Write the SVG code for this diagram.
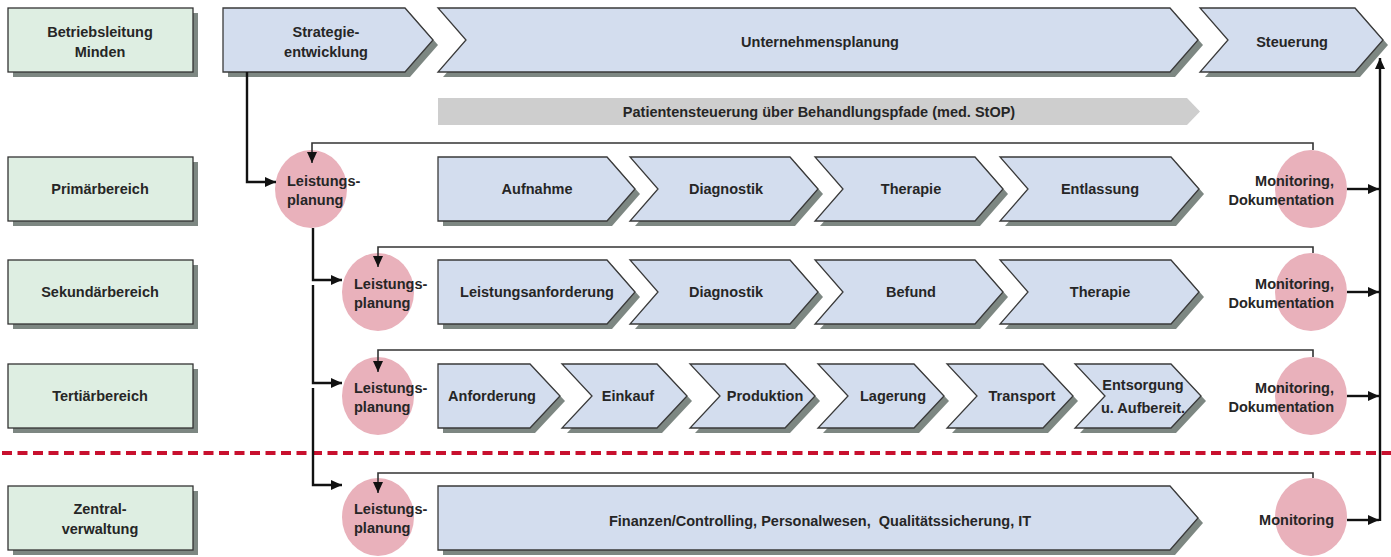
<svg xmlns="http://www.w3.org/2000/svg" xmlns:xlink="http://www.w3.org/1999/xlink" width="1391" height="557" viewBox="0 0 1391 557">
<style>
  .box{fill:#deeee2;stroke:#333;stroke-width:1.3}
  .chev{fill:#d3ddee;stroke:#3a3a3a;stroke-width:1.3}
  .sh{fill:#7d8782;stroke:none}
  .band{fill:#cecece}
  .circ{fill:#e9b1bb;stroke:none}
  text{font-family:"Liberation Sans",Arial,sans-serif;font-size:14.5px;font-weight:bold;fill:#262626}
  .c{text-anchor:middle}
  .r{text-anchor:end}
  .fb{fill:none;stroke:#333;stroke-width:1.6}
  .ln{fill:none;stroke:#111;stroke-width:2.4}
  .sep{stroke:#c8102e;stroke-width:4;stroke-dasharray:10 5.5}
</style>
<defs>
  <marker id="arr" markerUnits="userSpaceOnUse" markerWidth="12" markerHeight="10" refX="11" refY="5" orient="auto">
    <path d="M0,0 L11,5 L0,10 Z" fill="#111"/>
  </marker>
  <rect id="bx1" x="8" y="8" width="185" height="64"/>
  <rect id="bx2" x="8" y="157" width="185" height="64"/>
  <rect id="bx3" x="8" y="260" width="185" height="64"/>
  <rect id="bx4" x="8" y="364" width="185" height="64"/>
  <rect id="bx5" x="8" y="486" width="185" height="64"/>
  <path id="c_str" d="M223,8 H405 L433,40 L405,72 H223 Z"/>
  <path id="c_unt" d="M438,8 H1170 L1198,40 L1170,72 H438 L466,40 Z"/>
  <path id="c_ste" d="M1200,8 H1355 L1383,40 L1355,72 H1200 L1228,40 Z"/>
  <path id="p1" d="M438,157 H607 L635,189 L607,221 H438 Z"/>
  <path id="p2" d="M630,157 H790 L818,189 L790,221 H630 L658,189 Z"/>
  <path id="p3" d="M815,157 H975 L1003,189 L975,221 H815 L843,189 Z"/>
  <path id="p4" d="M1000,157 H1171 L1199,189 L1171,221 H1000 L1028,189 Z"/>
  <path id="s1" d="M438,260 H607 L635,292 L607,324 H438 Z"/>
  <path id="s2" d="M630,260 H790 L818,292 L790,324 H630 L658,292 Z"/>
  <path id="s3" d="M815,260 H975 L1003,292 L975,324 H815 L843,292 Z"/>
  <path id="s4" d="M1000,260 H1171 L1199,292 L1171,324 H1000 L1028,292 Z"/>
  <path id="t1" d="M438,364 H530 L560,396 L530,428 H438 Z"/>
  <path id="t2" d="M562,364 H657 L687,396 L657,428 H562 L592,396 Z"/>
  <path id="t3" d="M690,364 H785 L815,396 L785,428 H690 L720,396 Z"/>
  <path id="t4" d="M818,364 H914 L944,396 L914,428 H818 L848,396 Z"/>
  <path id="t5" d="M947,364 H1043 L1073,396 L1043,428 H947 L977,396 Z"/>
  <path id="t6" d="M1075,364 H1171 L1201,396 L1171,428 H1075 L1105,396 Z"/>
  <path id="z1" d="M438,486 H1170 L1198,518 L1170,550 H438 Z"/>
</defs>

<!-- separator -->
<line class="sep" x1="2" y1="453" x2="1391" y2="453"/>

<!-- left labels -->
<g id="betriebsleitung"><use href="#bx1" class="sh" transform="translate(5,5)"/><use href="#bx1" class="box"/>
  <text class="c" x="100" y="37">Betriebsleitung</text><text class="c" x="100" y="57">Minden</text></g>
<g id="primaerbereich"><use href="#bx2" class="sh" transform="translate(5,5)"/><use href="#bx2" class="box"/>
  <text class="c" x="100" y="194">Primärbereich</text></g>
<g id="sekundaerbereich"><use href="#bx3" class="sh" transform="translate(5,5)"/><use href="#bx3" class="box"/>
  <text class="c" x="100" y="297">Sekundärbereich</text></g>
<g id="tertiaerbereich"><use href="#bx4" class="sh" transform="translate(5,5)"/><use href="#bx4" class="box"/>
  <text class="c" x="100" y="401">Tertiärbereich</text></g>
<g id="zentralverwaltung"><use href="#bx5" class="sh" transform="translate(5,5)"/><use href="#bx5" class="box"/>
  <text class="c" x="100" y="514">Zentral-</text><text class="c" x="100" y="534">verwaltung</text></g>

<!-- top row -->
<g id="strategie"><use href="#c_str" class="sh" transform="translate(5,5)"/><use href="#c_str" class="chev"/>
  <text class="c" x="326" y="37">Strategie-</text><text class="c" x="326" y="57">entwicklung</text></g>
<g id="unternehmensplanung"><use href="#c_unt" class="sh" transform="translate(5,5)"/><use href="#c_unt" class="chev"/>
  <text class="c" x="820" y="47">Unternehmensplanung</text></g>
<g id="steuerung"><use href="#c_ste" class="sh" transform="translate(5,5)"/><use href="#c_ste" class="chev"/>
  <text class="c" x="1292" y="47">Steuerung</text></g>

<g id="patientensteuerung"><path class="band" d="M438,98 H1187 L1200,111.5 L1187,125 H438 Z"/>
  <text class="c" x="819" y="117">Patientensteuerung über Behandlungspfade (med. StOP)</text></g>

<!-- primary row -->
<g id="aufnahme"><use href="#p1" class="sh" transform="translate(5,5)"/><use href="#p1" class="chev"/><text class="c" x="537" y="194">Aufnahme</text></g>
<g id="diagnostik1"><use href="#p2" class="sh" transform="translate(5,5)"/><use href="#p2" class="chev"/><text class="c" x="726" y="194">Diagnostik</text></g>
<g id="therapie1"><use href="#p3" class="sh" transform="translate(5,5)"/><use href="#p3" class="chev"/><text class="c" x="911" y="194">Therapie</text></g>
<g id="entlassung"><use href="#p4" class="sh" transform="translate(5,5)"/><use href="#p4" class="chev"/><text class="c" x="1100" y="194">Entlassung</text></g>

<!-- secondary row -->
<g id="leistungsanforderung"><use href="#s1" class="sh" transform="translate(5,5)"/><use href="#s1" class="chev"/><text class="c" x="537" y="297">Leistungsanforderung</text></g>
<g id="diagnostik2"><use href="#s2" class="sh" transform="translate(5,5)"/><use href="#s2" class="chev"/><text class="c" x="726" y="297">Diagnostik</text></g>
<g id="befund"><use href="#s3" class="sh" transform="translate(5,5)"/><use href="#s3" class="chev"/><text class="c" x="911" y="297">Befund</text></g>
<g id="therapie2"><use href="#s4" class="sh" transform="translate(5,5)"/><use href="#s4" class="chev"/><text class="c" x="1100" y="297">Therapie</text></g>

<!-- tertiary row -->
<g id="anforderung"><use href="#t1" class="sh" transform="translate(5,5)"/><use href="#t1" class="chev"/><text class="c" x="492" y="401">Anforderung</text></g>
<g id="einkauf"><use href="#t2" class="sh" transform="translate(5,5)"/><use href="#t2" class="chev"/><text class="c" x="628" y="401">Einkauf</text></g>
<g id="produktion"><use href="#t3" class="sh" transform="translate(5,5)"/><use href="#t3" class="chev"/><text class="c" x="765" y="401">Produktion</text></g>
<g id="lagerung"><use href="#t4" class="sh" transform="translate(5,5)"/><use href="#t4" class="chev"/><text class="c" x="893" y="401">Lagerung</text></g>
<g id="transport"><use href="#t5" class="sh" transform="translate(5,5)"/><use href="#t5" class="chev"/><text class="c" x="1022" y="401">Transport</text></g>
<g id="entsorgung"><use href="#t6" class="sh" transform="translate(5,5)"/><use href="#t6" class="chev"/><text class="c" x="1143" y="390">Entsorgung</text><text class="c" x="1143" y="413">u. Aufbereit.</text></g>

<!-- central row -->
<g id="finanzen"><use href="#z1" class="sh" transform="translate(5,5)"/><use href="#z1" class="chev"/>
  <text class="c" x="820" y="526" style="white-space:pre">Finanzen/Controlling, Personalwesen,  Qualitätssicherung, IT</text></g>

<!-- Leistungsplanung circles -->
<g id="lp1"><ellipse class="circ" cx="311" cy="189" rx="36" ry="39"/><text x="287" y="186">Leistungs-</text><text x="287" y="205">planung</text></g>
<g id="lp2"><ellipse class="circ" cx="378" cy="292" rx="36" ry="39"/><text x="354" y="289">Leistungs-</text><text x="354" y="308">planung</text></g>
<g id="lp3"><ellipse class="circ" cx="378" cy="396" rx="36" ry="39"/><text x="354" y="393">Leistungs-</text><text x="354" y="412">planung</text></g>
<g id="lp4"><ellipse class="circ" cx="378" cy="517" rx="36" ry="39"/><text x="354" y="514">Leistungs-</text><text x="354" y="533">planung</text></g>

<!-- Monitoring circles -->
<g id="mon1"><ellipse class="circ" cx="1311" cy="189" rx="36" ry="39"/><text class="r" x="1334" y="186">Monitoring,</text><text class="r" x="1334" y="205">Dokumentation</text></g>
<g id="mon2"><ellipse class="circ" cx="1311" cy="292" rx="36" ry="39"/><text class="r" x="1334" y="289">Monitoring,</text><text class="r" x="1334" y="308">Dokumentation</text></g>
<g id="mon3"><ellipse class="circ" cx="1311" cy="396" rx="36" ry="39"/><text class="r" x="1334" y="393">Monitoring,</text><text class="r" x="1334" y="412">Dokumentation</text></g>
<g id="mon4"><ellipse class="circ" cx="1311" cy="517" rx="36" ry="39"/><text class="r" x="1334" y="525">Monitoring</text></g>

<!-- connectors -->
<g id="connectors">
  <path class="ln" d="M247,72 V182 H276" marker-end="url(#arr)"/>
  <path class="ln" d="M313,228 V280 H342" marker-end="url(#arr)"/>
  <path class="ln" d="M313,285 V383 H342" marker-end="url(#arr)"/>
  <path class="ln" d="M313,388 V485 H342" marker-end="url(#arr)"/>
  <path class="fb" d="M1313,150 V143 H312 V163" marker-end="url(#arr)"/>
  <path class="fb" d="M1313,253 V247 H378 V267" marker-end="url(#arr)"/>
  <path class="fb" d="M1313,357 V350 H378 V372" marker-end="url(#arr)"/>
  <path class="fb" d="M1313,478 V473 H378 V493" marker-end="url(#arr)"/>
  <path class="ln" d="M1347,189 H1379" marker-end="url(#arr)"/>
  <path class="ln" d="M1347,292 H1379" marker-end="url(#arr)"/>
  <path class="ln" d="M1347,396 H1379" marker-end="url(#arr)"/>
  <path class="ln" d="M1347,520 H1379" marker-end="url(#arr)"/>
  <path class="ln" d="M1380,521 V58" marker-end="url(#arr)"/>
</g>
</svg>
